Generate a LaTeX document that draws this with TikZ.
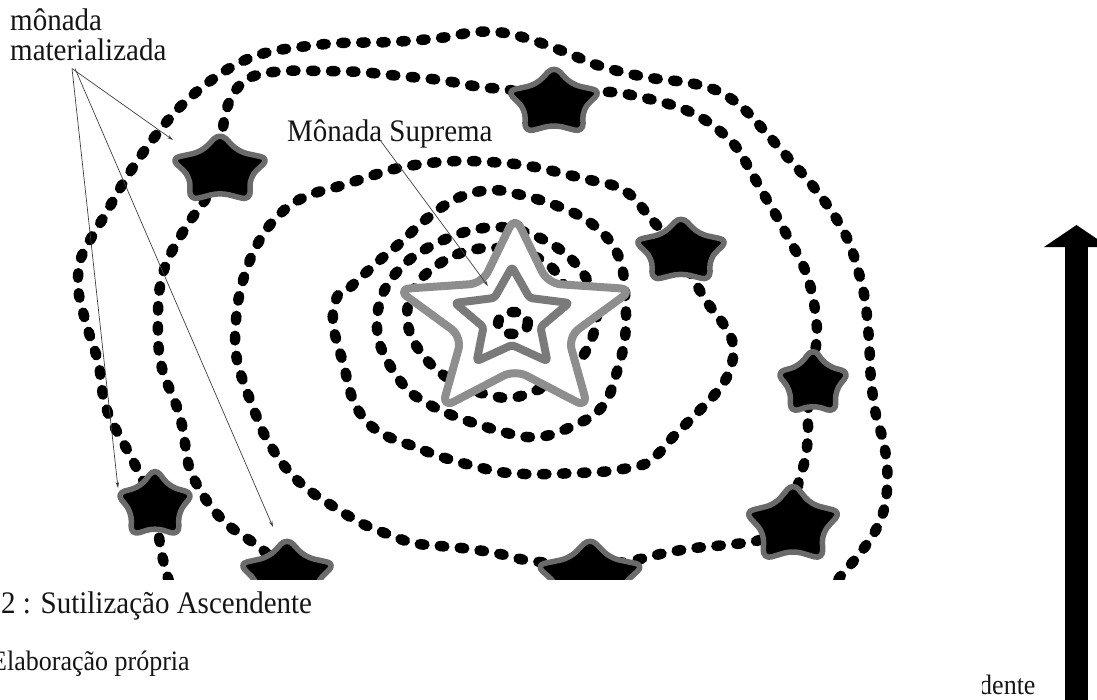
\documentclass[tikz,border=0pt]{standalone}
\usepackage{fontspec}
\setmainfont{Liberation Serif}
\usetikzlibrary{arrows.meta}
\definecolor{stargrey}{HTML}{6B6B6B}
\definecolor{bigout}{HTML}{8E8E8E}
\definecolor{bigin}{HTML}{7A7A7A}
\definecolor{inkc}{HTML}{151515}
\tikzset{
 dotsty/.style={line width=10.5pt,dash pattern=on 4.5pt off 15.5pt,line cap=round,line join=round,draw=black},
 smallstar/.style={fill=black,draw=stargrey,line width=5.5pt,rounded corners=9pt,line join=round},
 bigstar/.style={fill=white,draw=bigout,line width=8pt,rounded corners=13pt,line join=round},
 innerstar/.style={draw=bigin,line width=8pt,rounded corners=3pt,line join=round},
 lab/.style={inner sep=0pt,font=\fontsize{29}{27}\selectfont,text=inkc},
 ann/.style={draw=black!75,line width=0.7pt,-{Stealth[length=6pt,width=3.5pt]}},
}
\newcommand\mystar[6]{%
 \begin{scope}[shift={(#1,#2)},xscale=#3,yscale=#4]
 \path[#6] (270:1)--(306:#5)--(342:1)--(18:#5)--(54:1)--(90:#5)--(126:1)--(162:#5)--(198:1)--(234:#5)--cycle;
 \end{scope}}
\newcommand\tall[1]{\scalebox{1}[1.08]{#1}}
\begin{document}
\begin{tikzpicture}[x=1pt,y=-1pt]
\useasboundingbox (0,0) rectangle (1097,699);
\begin{scope}
\clip (0,0) rectangle (1097,579);
% outer loop
\draw[dotsty] plot[smooth,tension=0.6] coordinates {
(175,600) (168,578) (162,555) (158,530) (155,505) (140,475) (130,455) (120,437) (110,418) (104,400) (101,382) (99,365) (94,348) (88,330) (83,312) (79,295) (78,277) (81,258) (90,240) (105,215) (122,185) (140,157) (160,130) (180,107) (205,85) (235,65) (265,53) (300,47) (340,43) (390,42) (440,38) (475,32) (505,33) (535,41) (565,52) (600,66) (645,77) (690,83) (720,92) (745,110) (768,135) (790,160) (812,185) (832,212) (848,240) (858,270) (865,300) (869,340) (871,380) (876,415) (883,440) (887,465) (887,490) (883,513) (873,535) (857,557) (840,577) (825,600)};
% spiral
\draw[dotsty] plot[smooth,tension=0.6] coordinates {
(305,600) (287,575) (263,550) (245,537) (228,525) (212,508) (200,490) (190,470) (186,450) (183,430) (178,410) (170,390) (163,372) (159,352) (158,332) (158,312) (159,293) (163,273) (170,255) (180,237) (192,218) (205,200) (220,171) (222,135) (228,105) (240,85) (257,75) (285,71) (320,71) (360,72) (400,76) (440,80) (480,87) (510,90) (553,100) (605,92) (640,97) (675,106) (700,117) (720,131) (737,148) (750,170) (763,193) (777,217) (790,241) (802,263) (810,285) (815,310) (817,335) (814,360) (813,383) (808,410) (808,435) (805,460) (798,485) (793,525) (760,540) (725,545) (695,548) (665,553) (635,560) (590,566) (550,563) (525,560) (500,554) (470,549) (440,546) (413,543) (390,535) (365,525) (347,515) (328,503) (310,491) (295,478) (282,463) (272,448) (263,432) (256,415) (249,397) (242,378) (237,360) (235,340) (236,320) (238,302) (242,284) (248,265) (256,247) (266,230) (280,214) (295,202) (315,193) (340,186) (365,178) (390,170) (415,165) (440,162) (465,161) (490,162) (515,164) (540,168) (565,174) (590,180) (615,186) (633,197) (648,215) (668,238) (681,251) (693,278) (707,302) (722,322) (732,340) (733,358) (727,377) (716,393) (702,408) (688,422) (673,437) (660,452) (645,464) (623,469) (600,472) (575,473) (550,474) (525,474) (500,472) (478,467) (455,461) (433,454) (413,446) (393,439) (375,429) (362,416) (353,400) (348,383) (344,366) (339,349) (334,330) (333,312) (338,295) (345,292) (360,278) (380,260) (400,243) (425,220) (450,202) (472,193) (495,190) (517,194) (540,200) (560,207) (580,216) (596,227) (609,240) (618,255) (623,272) (625,292) (626,315) (625,338) (621,358) (615,378) (608,398) (595,414) (575,425) (550,435) (527,437) (503,432) (483,426) (462,419) (442,411) (425,402) (410,392) (398,378) (388,362) (380,345) (377,328) (378,310) (384,291) (396,273) (413,257) (437,243) (465,232) (495,227) (522,231) (548,242) (568,256) (583,273) (593,293) (597,315) (592,338) (580,360) (560,378) (535,391) (510,398) (485,394) (462,386) (442,374) (425,358) (412,338) (407,318) (410,298) (420,280) (436,266) (458,254) (485,248) (513,250) (538,258) (556,272) (566,292) (568,315) (560,337) (543,353) (520,362) (495,362)};
% small stars
\mystar{554}{102.5}{50}{37}{0.6}{smallstar}
\mystar{220}{170}{52}{37.6}{0.6}{smallstar}
\mystar{681}{251.5}{50}{36}{0.6}{smallstar}
\mystar{813}{383.5}{39}{36}{0.6}{smallstar}
\mystar{793}{525}{51}{42.5}{0.6}{smallstar}
\mystar{155}{505}{41}{37.6}{0.6}{smallstar}
\mystar{287}{575.5}{51}{38}{0.6}{smallstar}
\mystar{590}{577.5}{57}{40}{0.6}{smallstar}
% big star
\mystar{515}{322}{124}{106}{0.45}{bigstar}
\draw[dotsty] (513,323) ellipse [x radius=15, y radius=11];
\mystar{512}{319}{60}{52}{0.5}{innerstar}
\end{scope}
% labels
\node[lab,anchor=base west] (mm1) at (10,30) {\tall{mônada}};
\node[lab,anchor=base west] (mm2) at (10,60) {\tall{materializada}};
\node[lab,anchor=base west] (msup) at (287,141) {\tall{Mônada Suprema}};
\path (mm2.south west) ++(62,8) coordinate (ms);
\coordinate (t1) at (173,140);
\coordinate (t2) at (118,488);
\coordinate (t3) at (273,527);
\draw[ann] (ms) -- (t1);
\draw[ann] (ms) -- (t2);
\draw[ann] ([xshift=3pt]ms) -- (t3);
\path (msup.base west) ++(93,-1) coordinate (sps);
\coordinate (t4) at (488,286);
\draw[ann] (sps) -- (t4);
% captions
\node[lab,anchor=base west,font=\fontsize{29}{30}\selectfont] (cap1) at (1,613) {\tall{2 : Sutilização Ascendente}};
\node[lab,anchor=base west,font=\fontsize{26}{28}\selectfont] (cap2) at (-9,670) {\tall{Elaboração própria}};
\begin{scope}
\clip (982,600) rectangle (1045,699);
\node[lab,anchor=base west,font=\fontsize{26}{28}\selectfont] (asc) at (979,694) {\tall{dente}};
\end{scope}
% big arrow
\coordinate (arB) at (1076.5,710);
\coordinate (arT) at (1076.5,225);
\draw[line width=23pt,-{Triangle[length=22pt,width=64pt]}] (arB) -- (arT);
\end{tikzpicture}
\end{document}
